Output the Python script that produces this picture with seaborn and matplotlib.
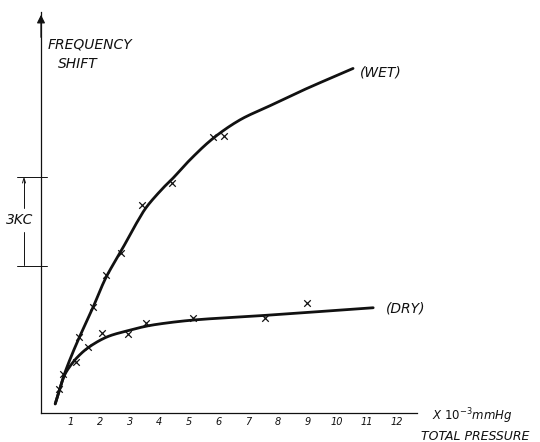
import matplotlib
matplotlib.use("Agg")
import matplotlib.pyplot as plt
import seaborn as sns
import numpy as np
import pandas as pd

# ---- data (x in 10^-3 mmHg, y in 1 KC ticks) ----
wet_pts_x = [0.61, 0.75, 1.28, 1.76, 2.19, 2.70, 3.40, 4.41, 5.81, 6.19]
wet_pts_y = [0.82, 1.33, 2.57, 3.60, 4.68, 5.43, 7.07, 7.81, 9.40, 9.42]

dry_pts_x = [1.17, 1.59, 2.05, 2.93, 3.54, 5.12, 7.56, 9.00]
dry_pts_y = [1.72, 2.26, 2.72, 2.70, 3.05, 3.24, 3.24, 3.73]

wet_curve_x = [0.48, 0.64, 0.80, 1.03, 1.28, 1.76, 2.19, 2.70, 3.25, 3.56,
               4.13, 4.46, 5.03, 5.81, 6.72, 7.73, 8.85, 10.54]
wet_curve_y = [0.31, 0.84, 1.35, 1.95, 2.54, 3.60, 4.60, 5.50, 6.50, 7.00,
               7.66, 7.99, 8.61, 9.34, 9.97, 10.45, 10.98, 11.72]

dry_curve_x = [0.48, 0.64, 0.80, 1.00, 1.25, 1.59, 2.21, 2.93, 3.54, 4.01, 5.12, 7.56, 11.22]
dry_curve_y = [0.31, 0.84, 1.30, 1.62, 1.92, 2.22, 2.58, 2.80, 2.95, 3.03, 3.16, 3.32, 3.58]

x_ticks = list(range(1, 13))
x_tick_labels = [str(v) for v in x_ticks]
y_ticks = list(range(1, 13))


def smooth(xs, ys, n=20):
    """Centripetal Catmull-Rom rendering through the read points."""
    P = np.column_stack([xs, ys]).astype(float)
    P = np.vstack([2 * P[0] - P[1], P, 2 * P[-1] - P[-2]])
    out = []
    for i in range(1, len(P) - 2):
        p0, p1, p2, p3 = P[i - 1], P[i], P[i + 1], P[i + 2]
        t0 = 0.0
        t1 = t0 + np.linalg.norm(p1 - p0) ** 0.5
        t2 = t1 + np.linalg.norm(p2 - p1) ** 0.5
        t3 = t2 + np.linalg.norm(p3 - p2) ** 0.5
        t = np.linspace(t1, t2, n)[:, None]
        a1 = (t1 - t) / (t1 - t0) * p0 + (t - t0) / (t1 - t0) * p1
        a2 = (t2 - t) / (t2 - t1) * p1 + (t - t1) / (t2 - t1) * p2
        a3 = (t3 - t) / (t3 - t2) * p2 + (t - t2) / (t3 - t2) * p3
        b1 = (t2 - t) / (t2 - t0) * a1 + (t - t0) / (t2 - t0) * a2
        b2 = (t3 - t) / (t3 - t1) * a2 + (t - t1) / (t3 - t1) * a3
        c = (t2 - t) / (t2 - t1) * b1 + (t - t1) / (t2 - t1) * b2
        out.append(c if i == 1 else c[1:])
    c = np.vstack(out)
    return c[:, 0], c[:, 1]


sns.set_style("white")
plt.rcParams['font.family'] = ['DejaVu Sans']

fig = plt.figure(figsize=(5.4, 4.42), dpi=100)
ax = fig.add_axes([41 / 540, 1 - 413 / 442, (417 - 41) / 540, (413 - 12) / 442])
ax.set_xlim(0, 12.7)
ax.set_ylim(0, 13.64)

ink = "#111111"
wx, wy = smooth(wet_curve_x, wet_curve_y)
dx, dy = smooth(dry_curve_x, dry_curve_y)
sns.lineplot(x=wx, y=wy, ax=ax, color=ink, lw=2.0, sort=False)
sns.lineplot(x=dx, y=dy, ax=ax, color=ink, lw=2.0, sort=False)
sns.scatterplot(x=wet_pts_x, y=wet_pts_y, ax=ax, marker="x", color=ink, s=22, linewidth=0.9, zorder=5)
sns.scatterplot(x=dry_pts_x, y=dry_pts_y, ax=ax, marker="x", color=ink, s=22, linewidth=0.9, zorder=5)

for side in ["top", "right"]:
    ax.spines[side].set_visible(False)
for side in ["left", "bottom"]:
    ax.spines[side].set_linewidth(0.9)
    ax.spines[side].set_color(ink)

ax.set_xticks(x_ticks)
ax.set_xticklabels(x_tick_labels, fontstyle="italic", fontsize=7)
ax.set_yticks(y_ticks)
ax.set_yticklabels([])
ax.tick_params(axis="x", direction="in", length=4, width=0.8, pad=3, colors=ink)
ax.tick_params(axis="y", direction="in", length=4, width=0.8, colors=ink)

# arrow on y axis
ax.annotate("", xy=(0, 1.0), xycoords="axes fraction", xytext=(0, 0.93),
            arrowprops=dict(arrowstyle="-|>", color=ink, lw=0.9, mutation_scale=12))

txt = dict(fontstyle="italic", color=ink, fontsize=10)
fig.text(48 / 540, 1 - 44 / 442, "FREQUENCY", va="center", ha="left", **txt)
fig.text(58 / 540, 1 - 64 / 442, "SHIFT", va="center", ha="left", **txt)
fig.text(360 / 540, 1 - 73 / 442, "(WET)", va="center", ha="left", **txt)
fig.text(386 / 540, 1 - 308 / 442, "(DRY)", va="center", ha="left", **txt)
fig.text(432 / 540, 1 - 416 / 442, "X $10^{-3}$mmHg", va="center", ha="left",
         fontstyle="italic", color=ink, fontsize=8.5)
fig.text(421 / 540, 1 - 436 / 442, "TOTAL PRESSURE", va="center", ha="left",
         fontstyle="italic", color=ink, fontsize=9)
fig.text(20 / 540, 1 - 220 / 442, "3KC", va="center", ha="center", **txt)

# 3KC bracket (figure coords)
def fx(px):
    return px / 540
def fy(py):
    return 1 - py / 442
lk = dict(color=ink, lw=0.7, transform=fig.transFigure)
fig.add_artist(plt.Line2D([fx(17), fx(47)], [fy(176.7), fy(176.7)], **lk))
fig.add_artist(plt.Line2D([fx(17), fx(47)], [fy(265.5), fy(265.5)], **lk))
fig.add_artist(plt.Line2D([fx(24), fx(24)], [fy(232), fy(265)], **lk))
fig.add_artist(plt.Line2D([fx(24), fx(24)], [fy(208), fy(180)], **lk))
fig.add_artist(plt.Line2D([fx(22.5), fx(24), fx(25.5)], [fy(183), fy(178), fy(183)], **lk))

fig.savefig("out.png", dpi=100, facecolor="white")
